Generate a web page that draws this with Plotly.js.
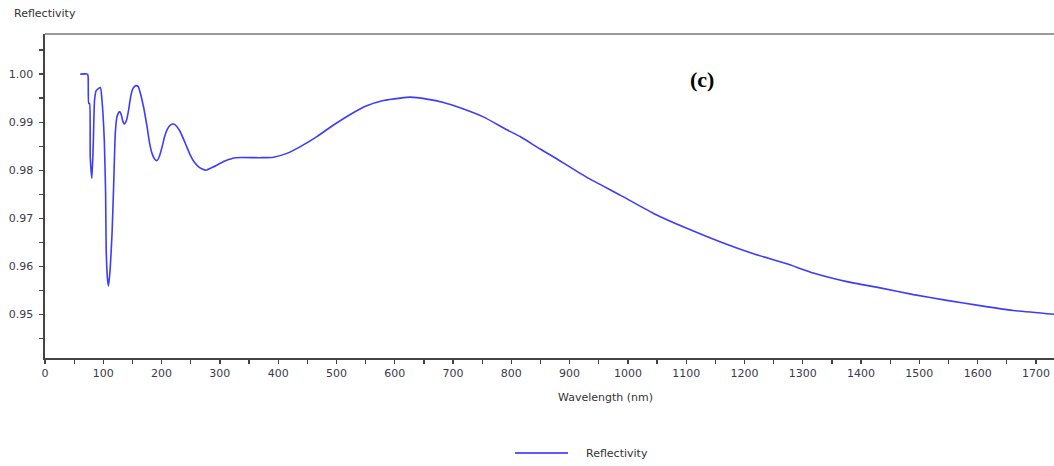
<!DOCTYPE html>
<html>
<head>
<meta charset="utf-8">
<script src="https://cdn.plot.ly/plotly-3.0.1.min.js"></script>
<style>html,body{margin:0;padding:0;background:#fff;}#chart{width:1054px;height:466px;}</style>
</head>
<body>
<div id="chart"></div>
<script>
// Wavelength (nm) and reflectivity
const wavelength = [60.5, 73, 74, 75, 76.5, 77.6, 80.5, 83, 85, 88, 95, 97.7, 101.7, 104, 105, 107.4, 109, 112, 115, 117.7, 120.6, 123.4, 125.5, 128, 131, 133, 136, 139.8, 143.4, 146, 149, 152, 156, 160, 163.6, 169, 175, 179.5, 183.6, 187.6, 192, 196, 201, 205, 209.3, 215, 220.7, 226, 232, 240.7, 249, 256, 263.6, 269, 276, 289, 300, 306.5, 315, 326.5, 369.3, 392, 415, 438, 466.5, 495, 523.7, 552, 580.8, 609.4, 626.6, 655, 683.7, 712, 752, 792.5, 815, 849.6, 872, 929.7, 986.8, 1044, 1101, 1158, 1215.4, 1272.7, 1318, 1375.6, 1432.7, 1490, 1547, 1604, 1661, 1731];
const reflectivity = [1.0000, 1.0000, 0.9995, 0.9939, 0.9939, 0.9828, 0.9783, 0.9863, 0.9946, 0.9966, 0.9972, 0.9946, 0.9863, 0.9752, 0.9633, 0.9571, 0.9559, 0.9598, 0.9668, 0.9765, 0.9877, 0.9911, 0.9918, 0.9922, 0.9915, 0.9904, 0.9896, 0.9904, 0.9925, 0.9946, 0.9964, 0.9972, 0.9976, 0.9974, 0.9960, 0.9932, 0.9891, 0.9856, 0.9835, 0.9824, 0.9820, 0.9828, 0.9849, 0.9869, 0.9884, 0.9894, 0.9896, 0.9891, 0.9880, 0.9856, 0.9832, 0.9817, 0.9807, 0.9803, 0.9800, 0.9807, 0.9814, 0.9818, 0.9822, 0.9826, 0.9826, 0.9827, 0.9835, 0.9849, 0.9870, 0.9894, 0.9916, 0.9934, 0.9945, 0.9950, 0.9952, 0.9948, 0.9941, 0.9930, 0.9911, 0.9884, 0.9870, 0.9844, 0.9828, 0.9785, 0.9748, 0.9710, 0.9679, 0.9651, 0.9626, 0.9605, 0.9586, 0.9568, 0.9555, 0.9541, 0.9529, 0.9518, 0.9508, 0.9500];
const seriesName = "Reflectivity";
const xTitle = "Wavelength (nm)";
const yTitle = "Reflectivity";
const panelLabel = "(c)";

const xRange = [0, 1731];
const yRange = [0.9409, 1.00835];
const tickFont = {family: "DejaVu Sans", size: 11, color: "#3a3a4a"};
const axisCol = "#444444";

const trace = {
  x: wavelength, y: reflectivity, name: seriesName, type: "scatter", mode: "lines",
  line: {color: "#3c3cff", width: 1.6, shape: "spline", smoothing: 0.5}, showlegend: false, hoverinfo: "x+y"
};

const layout = {
  width: 1054, height: 466,
  margin: {l: 45, r: 0, t: 34, b: 108},
  paper_bgcolor: "#ffffff", plot_bgcolor: "#ffffff",
  showlegend: false,
  xaxis: {
    range: xRange, tickmode: "linear", tick0: 0, dtick: 100,
    ticks: "outside", ticklen: 4, tickwidth: 1.3, tickcolor: axisCol,
    minor: {tickmode: "linear", tick0: 0, dtick: 50, ticks: "outside", ticklen: 4, tickwidth: 1.3, tickcolor: axisCol},
    showline: true, linecolor: axisCol, linewidth: 1.6, showgrid: false, zeroline: false,
    tickfont: tickFont, fixedrange: true
  },
  yaxis: {
    range: yRange, tickmode: "linear", tick0: 0.95, dtick: 0.01, tickformat: ".2f",
    ticks: "outside", ticklen: 4, tickwidth: 1.3, tickcolor: axisCol,
    minor: {tickmode: "linear", tick0: 0.95, dtick: 0.005, ticks: "outside", ticklen: 4, tickwidth: 1.3, tickcolor: axisCol},
    showline: true, linecolor: axisCol, linewidth: 1.6, showgrid: false, zeroline: false,
    tickfont: tickFont, ticklabelstandoff: 4, fixedrange: true
  },
  xaxis2: {
    overlaying: "x", anchor: "y", range: xRange, tickmode: "linear", tick0: 0, dtick: 100,
    ticks: "inside", ticklen: 3, tickwidth: 1.3, tickcolor: axisCol, showticklabels: false,
    minor: {tickmode: "linear", tick0: 0, dtick: 50, ticks: "inside", ticklen: 3, tickwidth: 1.3, tickcolor: axisCol},
    showline: false, showgrid: false, zeroline: false, fixedrange: true
  },
  yaxis2: {
    overlaying: "y", anchor: "x", side: "left", range: yRange, tickmode: "linear", tick0: 0.95, dtick: 0.01,
    ticks: "inside", ticklen: 3, tickwidth: 1.3, tickcolor: axisCol, showticklabels: false,
    minor: {tickmode: "linear", tick0: 0.95, dtick: 0.005, ticks: "inside", ticklen: 3, tickwidth: 1.3, tickcolor: axisCol},
    showline: false, showgrid: false, zeroline: false, fixedrange: true
  },
  shapes: [
    {type: "line", xref: "paper", yref: "paper", x0: 0, x1: 1, y0: 1, y1: 1, line: {color: "#7a7a7a", width: 1.6}},
    {type: "line", xref: "paper", yref: "paper", x0: (515 - 45) / 1009, x1: (568 - 45) / 1009, y0: (358 - 453) / 324, y1: (358 - 453) / 324, line: {color: "#5a5aff", width: 2}}
  ],
  annotations: [
    {text: yTitle, xref: "paper", yref: "paper", x: (12 - 45) / 1009, y: (358 - 14) / 324, xanchor: "left", yanchor: "middle", showarrow: false, font: {family: "DejaVu Sans", size: 11, color: "#333333"}},
    {text: xTitle, xref: "paper", yref: "paper", x: (605 - 45) / 1009, y: (358 - 397) / 324, xanchor: "center", yanchor: "middle", showarrow: false, font: {family: "DejaVu Sans", size: 11, color: "#333333"}},
    {text: seriesName, xref: "paper", yref: "paper", x: (584 - 45) / 1009, y: (358 - 453) / 324, xanchor: "left", yanchor: "middle", showarrow: false, font: {family: "DejaVu Sans", size: 11, color: "#333333"}},
    {text: panelLabel, xref: "paper", yref: "paper", x: (702 - 45) / 1009, y: (358 - 80) / 324, xanchor: "center", yanchor: "middle", showarrow: false, font: {family: "'Liberation Serif', 'Times New Roman', serif", weight: 700, size: 22, color: "#000000"}}
  ]
};

Plotly.newPlot("chart", [trace], layout, {staticPlot: true, displayModeBar: false});
</script>
</body>
</html>
